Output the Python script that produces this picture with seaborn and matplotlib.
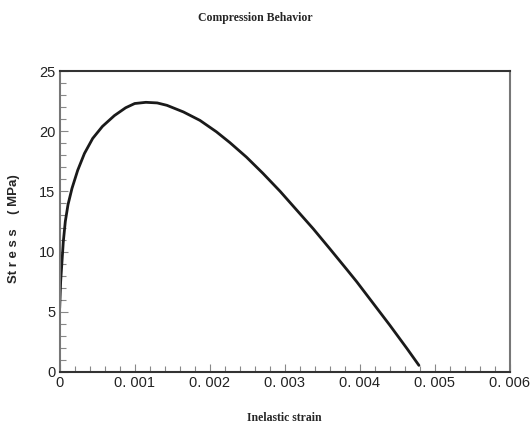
import matplotlib
matplotlib.use("Agg")
import matplotlib.pyplot as plt
from matplotlib.ticker import MultipleLocator
import seaborn as sns
import pandas as pd

# Data
strain = [0.0, 0.000013, 0.000031, 0.000048, 0.000075, 0.000111, 0.000164,
          0.00024, 0.00033, 0.00044, 0.00057, 0.00073, 0.00088, 0.00100,
          0.00115, 0.00130, 0.00143, 0.00165, 0.00187, 0.00209, 0.00227,
          0.00249, 0.00271, 0.00294, 0.00316, 0.00338, 0.0036, 0.00383,
          0.00396, 0.00418, 0.0044, 0.00463, 0.00479]
stress = [5.3, 7.5, 9.2, 10.8, 12.5, 13.9, 15.25,
          16.75, 18.15, 19.4, 20.4, 21.3, 21.95, 22.3,
          22.4, 22.35, 22.15, 21.6, 20.9, 19.95, 19.05,
          17.85, 16.5, 15.0, 13.45, 11.9, 10.25, 8.5,
          7.5, 5.7, 3.9, 1.95, 0.55]
x_ticks = [0, 0.001, 0.002, 0.003, 0.004, 0.005, 0.006]
x_tick_labels = ["0", "0. 001", "0. 002", "0. 003", "0. 004", "0. 005", "0. 006"]
y_ticks = [0, 5, 10, 15, 20, 25]

sns.set_style("white")
plt.rcParams['font.family'] = ['Liberation Sans', 'DejaVu Sans']

df = pd.DataFrame({"strain": strain, "stress": stress})

fig = plt.figure(figsize=(5.3, 4.32), dpi=100)
ax = fig.add_axes([0.1126, 0.1389, 0.8491, 0.6967])

sns.lineplot(data=df, x="strain", y="stress", sort=False, color="#1a1a1a",
             linewidth=2.0, ax=ax)

ax.set_xlim(0, 0.006)
ax.set_ylim(0, 25)
ax.set_xticks(x_ticks)
ax.set_xticklabels(x_tick_labels)
ax.set_yticks(y_ticks)
ax.set_yticklabels([str(v) for v in y_ticks])
ax.xaxis.set_minor_locator(MultipleLocator(0.0002))
ax.yaxis.set_minor_locator(MultipleLocator(1))
ax.tick_params(which="major", direction="in", length=6, width=0.8, color="#888888",
               labelsize=10.5, labelcolor="#222222", pad=3)
ax.tick_params(which="minor", direction="in", length=4, width=0.8, color="#888888")
ax.tick_params(axis="both", which="both", bottom=True, left=True, top=False, right=False)

for side in ["left", "right"]:
    ax.spines[side].set_color("#777777")
    ax.spines[side].set_linewidth(1.5)
for side in ["top", "bottom"]:
    ax.spines[side].set_color("#333333")
    ax.spines[side].set_linewidth(1.5)

ax.set_xlabel("")
ax.set_ylabel("")

fig.text(255 / 530, 1 - 18 / 432, "Compression Behavior", ha="center", va="center",
         fontsize=8.5, fontweight="bold", family="Liberation Serif")
fig.text(284 / 530, 1 - 418 / 432, "Inelastic strain", ha="center", va="center",
         fontsize=8.5, fontweight="bold", family="Liberation Serif")
fig.text(14 / 530, 1 - 229 / 432, "St r e s s    ( MPa)", ha="center", va="center",
         rotation=90, fontsize=9.5, fontweight="bold")

fig.savefig("out.png", dpi=100)
